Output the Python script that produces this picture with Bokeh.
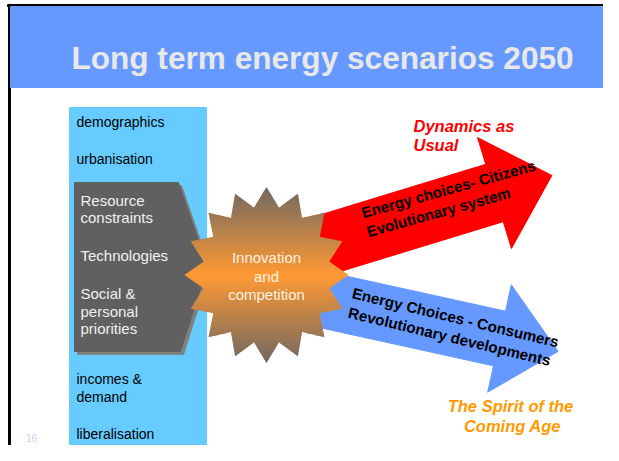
import math
from bokeh.plotting import figure
from bokeh.models import Range1d
from bokeh.core.properties import value
from bokeh.embed import file_html
from bokeh.resources import INLINE

# ---------------- content ----------------
title_text = "Long term energy scenarios 2050"
driver_labels = ["demographics", "urbanisation", "incomes &", "demand", "liberalisation"]
driver_y = [121, 158, 378, 396, 433]
core_labels = ["Resource", "constraints", "Technologies", "Social &", "personal", "priorities"]
core_y = [200, 217, 255, 293, 311, 328]
hub_labels = ["Innovation", "and", "competition"]
hub_y = [257, 276, 294]
red_arrow_lines = ["Energy choices- Citizens", "Evolutionary system"]
red_arrow_cx = [448, 438]
red_arrow_cy = [188.5, 211.5]
blue_arrow_lines = ["Energy Choices - Consumers", "Revolutionary developments"]
blue_arrow_cx = [455, 449]
blue_arrow_cy = [317, 336]
red_scenario = ["Dynamics as", "Usual"]
red_scenario_y = [125, 144]
blue_scenario = ["The Spirit of the", "Coming Age"]
blue_scenario_x = [510, 512]
blue_scenario_y = [405, 425]
page_number = "16"

FONT = value("Liberation Sans")

p = figure(width=603, height=445, x_range=Range1d(0, 603), y_range=Range1d(445, 0),
           output_backend="svg", toolbar_location=None, min_border=0)
p.axis.visible = False
p.grid.visible = False
p.outline_line_color = None
p.background_fill_color = "white"
p.border_fill_color = "white"

# slide frame & header
p.quad(left=8, right=10, top=4, bottom=460, color="black")
p.quad(left=7, right=616, top=4, bottom=6, color="black")
p.quad(left=10, right=616, top=6, bottom=87, color="#6699FF")
p.text(x=[322], y=[57], text=[title_text], text_font=FONT, text_font_size="31.6px",
       text_font_style="bold", text_color="#E8E8E8", text_align="center", text_baseline="middle")

# left driver panel
p.quad(left=69, right=206, top=107, bottom=445, color="#66CCFF")
p.text(x=[76] * len(driver_labels), y=driver_y, text=driver_labels, text_font=FONT,
       text_font_size="14px", text_color="black", text_align="left", text_baseline="middle")

# gray core block (with shadow)
pent_x = [74, 178, 207, 180, 74]
pent_y = [182, 182, 266, 351, 351]
p.patch([x + 3 for x in pent_x], [y + 3 for y in pent_y], color="#808080")
p.patch(pent_x, pent_y, color="#606060")
p.text(x=[80] * len(core_labels), y=core_y, text=core_labels, text_font=FONT,
       text_font_size="15px", text_color="#F0F0F0", text_align="left", text_baseline="middle")


def arrow_polygon(bx, by, ang_deg, back, shaft_half, head_half, head_len):
    a = math.radians(ang_deg)
    ux, uy = math.cos(a), -math.sin(a)
    nx, ny = math.sin(a), math.cos(a)
    sx, sy = bx - back * ux, by - back * uy
    pts = [
        (sx - shaft_half * nx, sy - shaft_half * ny),
        (bx - shaft_half * nx, by - shaft_half * ny),
        (bx - head_half * nx, by - head_half * ny),
        (bx + head_len * ux, by + head_len * uy),
        (bx + head_half * nx, by + head_half * ny),
        (bx + shaft_half * nx, by + shaft_half * ny),
        (sx + shaft_half * nx, sy + shaft_half * ny),
    ]
    return [q[0] for q in pts], [q[1] for q in pts]


rx, ry = arrow_polygon(494, 192.5, 17, 224, 30, 58, 60)
bx, by = arrow_polygon(499, 338, -12.4, 224, 28, 55, 60)
p.patch(bx, by, color="#6699FF")
p.patch(rx, ry, color="#FF0000")

# star burst with vertical gradient
cx, cy, srx, sry, inner, npts = 266, 274.5, 82, 88, 0.78, 16
star = []
for i in range(2 * npts):
    ang = math.pi / 2 - i * math.pi / npts
    r = 1.0 if i % 2 == 0 else inner
    star.append((cx + srx * r * math.cos(ang), cy - sry * r * math.sin(ang)))


def clip(pts, keep, yc):
    out = []
    for i in range(len(pts)):
        cur, prev = pts[i], pts[i - 1]
        cin, pin = keep(cur[1]), keep(prev[1])
        if cin:
            if not pin:
                t = (yc - prev[1]) / (cur[1] - prev[1])
                out.append((prev[0] + t * (cur[0] - prev[0]), yc))
            out.append(cur)
        elif pin:
            t = (yc - prev[1]) / (cur[1] - prev[1])
            out.append((prev[0] + t * (cur[0] - prev[0]), yc))
    return out


gray = (112, 104, 98)
orange = (255, 153, 51)
top, bot = cy - sry, cy + sry
step = 2.0
band_xs, band_ys, band_cols = [], [], []
y0 = top
while y0 < bot:
    y1 = min(y0 + step + 0.8, bot)
    pts = clip(star, lambda y, a=y0: y >= a, y0)
    pts = clip(pts, lambda y, b=y1: y <= b, y1) if pts else []
    if len(pts) >= 3:
        f = ((y0 + step / 2) - top) / (bot - top)
        t = 1 - abs(f - 0.5) / 0.5
        col = tuple(int(round(g + (o - g) * t)) for g, o in zip(gray, orange))
        band_xs.append([q[0] for q in pts])
        band_ys.append([q[1] for q in pts])
        band_cols.append("#%02x%02x%02x" % col)
    y0 += step
p.patches(band_xs, band_ys, fill_color=band_cols, line_color=None)

p.text(x=[266] * 3, y=hub_y, text=hub_labels, text_font=FONT, text_font_size="15px",
       text_color="#FFF2E0", text_align="center", text_baseline="middle")

# arrow labels
p.text(x=red_arrow_cx, y=red_arrow_cy, text=red_arrow_lines, angle=math.radians(15.5),
       text_font=FONT, text_font_size="15.2px", text_font_style="bold", text_color="black",
       text_align="center", text_baseline="middle")
p.text(x=blue_arrow_cx, y=blue_arrow_cy, text=blue_arrow_lines, angle=math.radians(-13.5),
       text_font=FONT, text_font_size="15.2px", text_font_style="bold", text_color="black",
       text_align="center", text_baseline="middle")

# scenario names
p.text(x=[413] * 2, y=red_scenario_y, text=red_scenario, text_font=FONT, text_font_size="16.5px",
       text_font_style="bold italic", text_color="#FF0000", text_align="left", text_baseline="middle")
p.text(x=blue_scenario_x, y=blue_scenario_y, text=blue_scenario, text_font=FONT,
       text_font_size="16.5px", text_font_style="bold italic", text_color="#FF9900",
       text_align="center", text_baseline="middle")

p.text(x=[31], y=[437], text=[page_number], text_font=FONT, text_font_size="10px",
       text_color="#D9C8E8", text_align="center", text_baseline="middle")

open("out.html", "w").write(file_html(p, INLINE))
